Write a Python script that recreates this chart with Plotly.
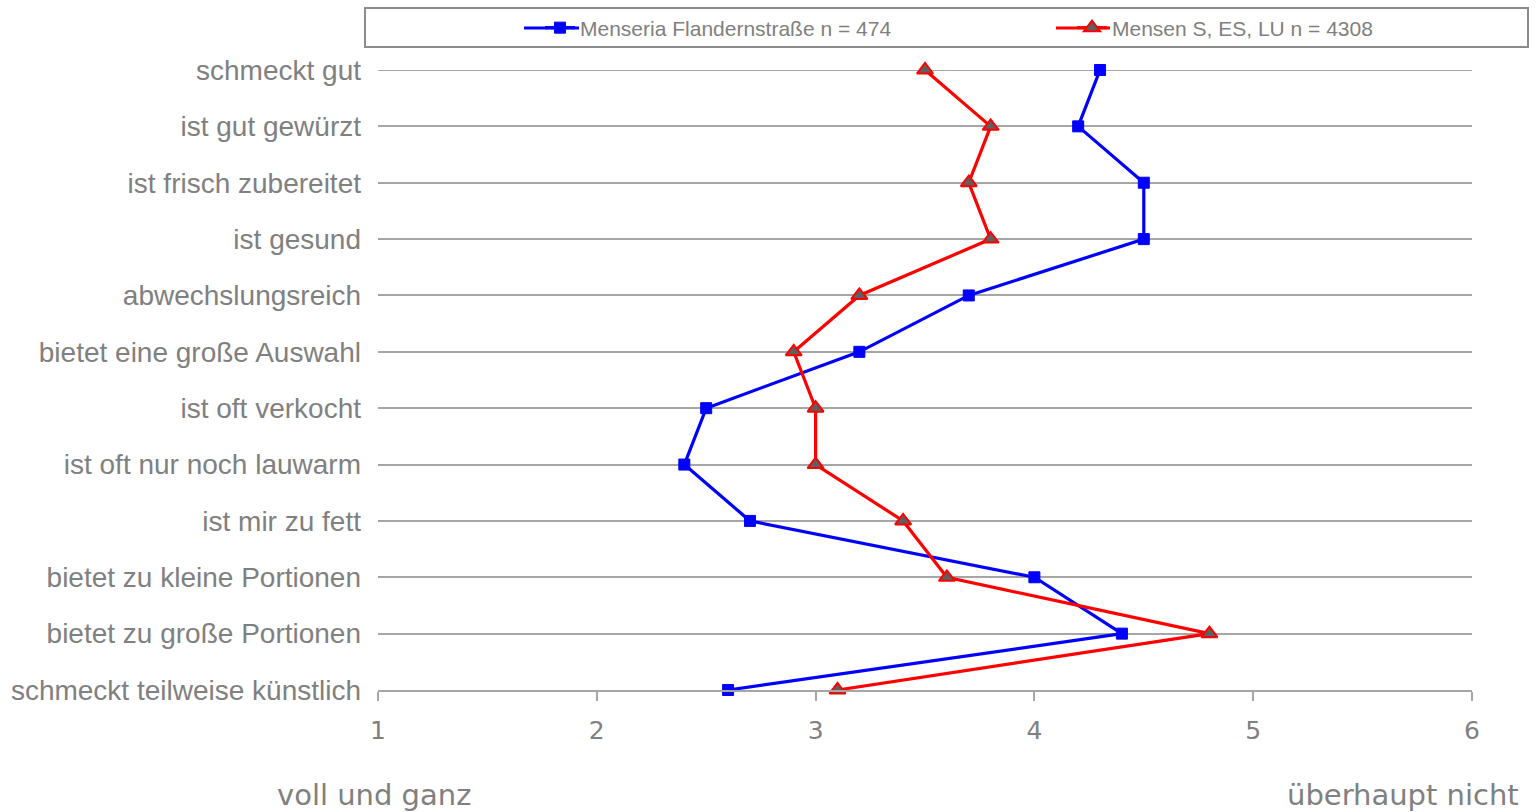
import plotly.graph_objects as go

# Survey items, listed top to bottom
items = [
    "schmeckt gut",
    "ist gut gewürzt",
    "ist frisch zubereitet",
    "ist gesund",
    "abwechslungsreich",
    "bietet eine große Auswahl",
    "ist oft verkocht",
    "ist oft nur noch lauwarm",
    "ist mir zu fett",
    "bietet zu kleine Portionen",
    "bietet zu große Portionen",
    "schmeckt teilweise künstlich",
]

# Mean ratings (1 = voll und ganz ... 6 = überhaupt nicht)
flandernstrasse = [4.3, 4.2, 4.5, 4.5, 3.7, 3.2, 2.5, 2.4, 2.7, 4.0, 4.4, 2.6]
mensen_s_es_lu = [3.5, 3.8, 3.7, 3.8, 3.2, 2.9, 3.0, 3.0, 3.4, 3.6, 4.8, 3.1]

x_ticks = [1, 2, 3, 4, 5, 6]

GRAY_TEXT = "#808080"
GRID = "#a6a6a6"
BLUE = "#0000ff"
RED = "#ff0000"

# plot area in pixels
L, R, T, B = 378, 1472, 70, 690
PW, PH = R - L, B - T


def px_x(x):
    return (x - L) / PW


def px_y(y):
    return (B - y) / PH


fig = go.Figure()

fig.add_trace(go.Scatter(
    x=flandernstrasse, y=items, mode="lines+markers",
    name="Menseria Flandernstraße n = 474",
    line=dict(color=BLUE, width=3.2),
    marker=dict(symbol="square", size=11, color=BLUE,
                line=dict(color=BLUE, width=1)),
    cliponaxis=False, legend="legend",
))

fig.add_trace(go.Scatter(
    x=mensen_s_es_lu, y=items, mode="lines+markers",
    name="Mensen S, ES, LU n = 4308",
    line=dict(color=RED, width=3.2),
    marker=dict(symbol="triangle-up", size=14, color="#5f5f5f",
                line=dict(color=RED, width=2)),
    cliponaxis=False, legend="legend2",
))

LEG_Y = 28
legend_common = dict(
    orientation="h", xanchor="left", yanchor="middle",
    y=px_y(LEG_Y),
    font=dict(family="Liberation Sans, Arial", size=21, color=GRAY_TEXT),
    bgcolor="rgba(0,0,0,0)", borderwidth=0, itemclick=False,
)

shapes = [
    # legend frame
    dict(type="rect", xref="paper", yref="paper",
         x0=px_x(365), x1=px_x(1528), y0=px_y(47), y1=px_y(8),
         line=dict(color="#8c8c8c", width=2), fillcolor="rgba(0,0,0,0)",
         layer="below"),
    # longer legend line samples
    dict(type="line", xref="paper", yref="paper",
         x0=px_x(524), x1=px_x(579), y0=px_y(LEG_Y), y1=px_y(LEG_Y),
         line=dict(color=BLUE, width=3.2), layer="below"),
    dict(type="line", xref="paper", yref="paper",
         x0=px_x(1056), x1=px_x(1110), y0=px_y(LEG_Y), y1=px_y(LEG_Y),
         line=dict(color=RED, width=3.2), layer="below"),
    # gridline of the first row (sits on the plot edge)
    dict(type="line", xref="paper", yref="y",
         x0=0, x1=1, y0=items[0], y1=items[0],
         line=dict(color=GRID, width=2), layer="below"),
]

fig.update_layout(
    width=1538, height=812,
    margin=dict(l=L, r=1538 - R, t=T, b=812 - B, autoexpand=False),
    paper_bgcolor="white", plot_bgcolor="white",
    font=dict(family="Liberation Sans, Arial", color=GRAY_TEXT),
    showlegend=True,
    legend=dict(x=px_x(540), **legend_common),
    legend2=dict(x=px_x(1072), **legend_common),
    xaxis=dict(
        range=[1, 6],
        tickvals=x_ticks,
        ticktext=[str(v) for v in x_ticks],
        showgrid=False, zeroline=False,
        showline=True, linecolor=GRID, linewidth=2,
        ticks="outside", ticklen=9, tickwidth=2, tickcolor=GRID,
        tickfont=dict(family="DejaVu Sans", size=25, color=GRAY_TEXT),
        ticklabelstandoff=8,
    ),
    yaxis=dict(
        type="category",
        categoryorder="array", categoryarray=items,
        range=[len(items) - 1, 0],
        showgrid=True, gridcolor=GRID, gridwidth=2,
        zeroline=False, showline=False,
        ticks="", ticklabelstandoff=16,
        tickfont=dict(family="Liberation Sans, Arial", size=28, color=GRAY_TEXT),
    ),
    shapes=shapes,
    annotations=[
        dict(text="voll und ganz", xref="paper", yref="paper",
             x=px_x(374), y=px_y(795),
             xanchor="center", yanchor="middle", showarrow=False,
             font=dict(family="DejaVu Sans", size=29, color=GRAY_TEXT)),
        dict(text="überhaupt nicht", xref="paper", yref="paper",
             x=px_x(1521), y=px_y(795),
             xanchor="right", yanchor="middle", showarrow=False,
             font=dict(family="DejaVu Sans", size=29, color=GRAY_TEXT)),
    ],
)

fig.write_html("out.html")
